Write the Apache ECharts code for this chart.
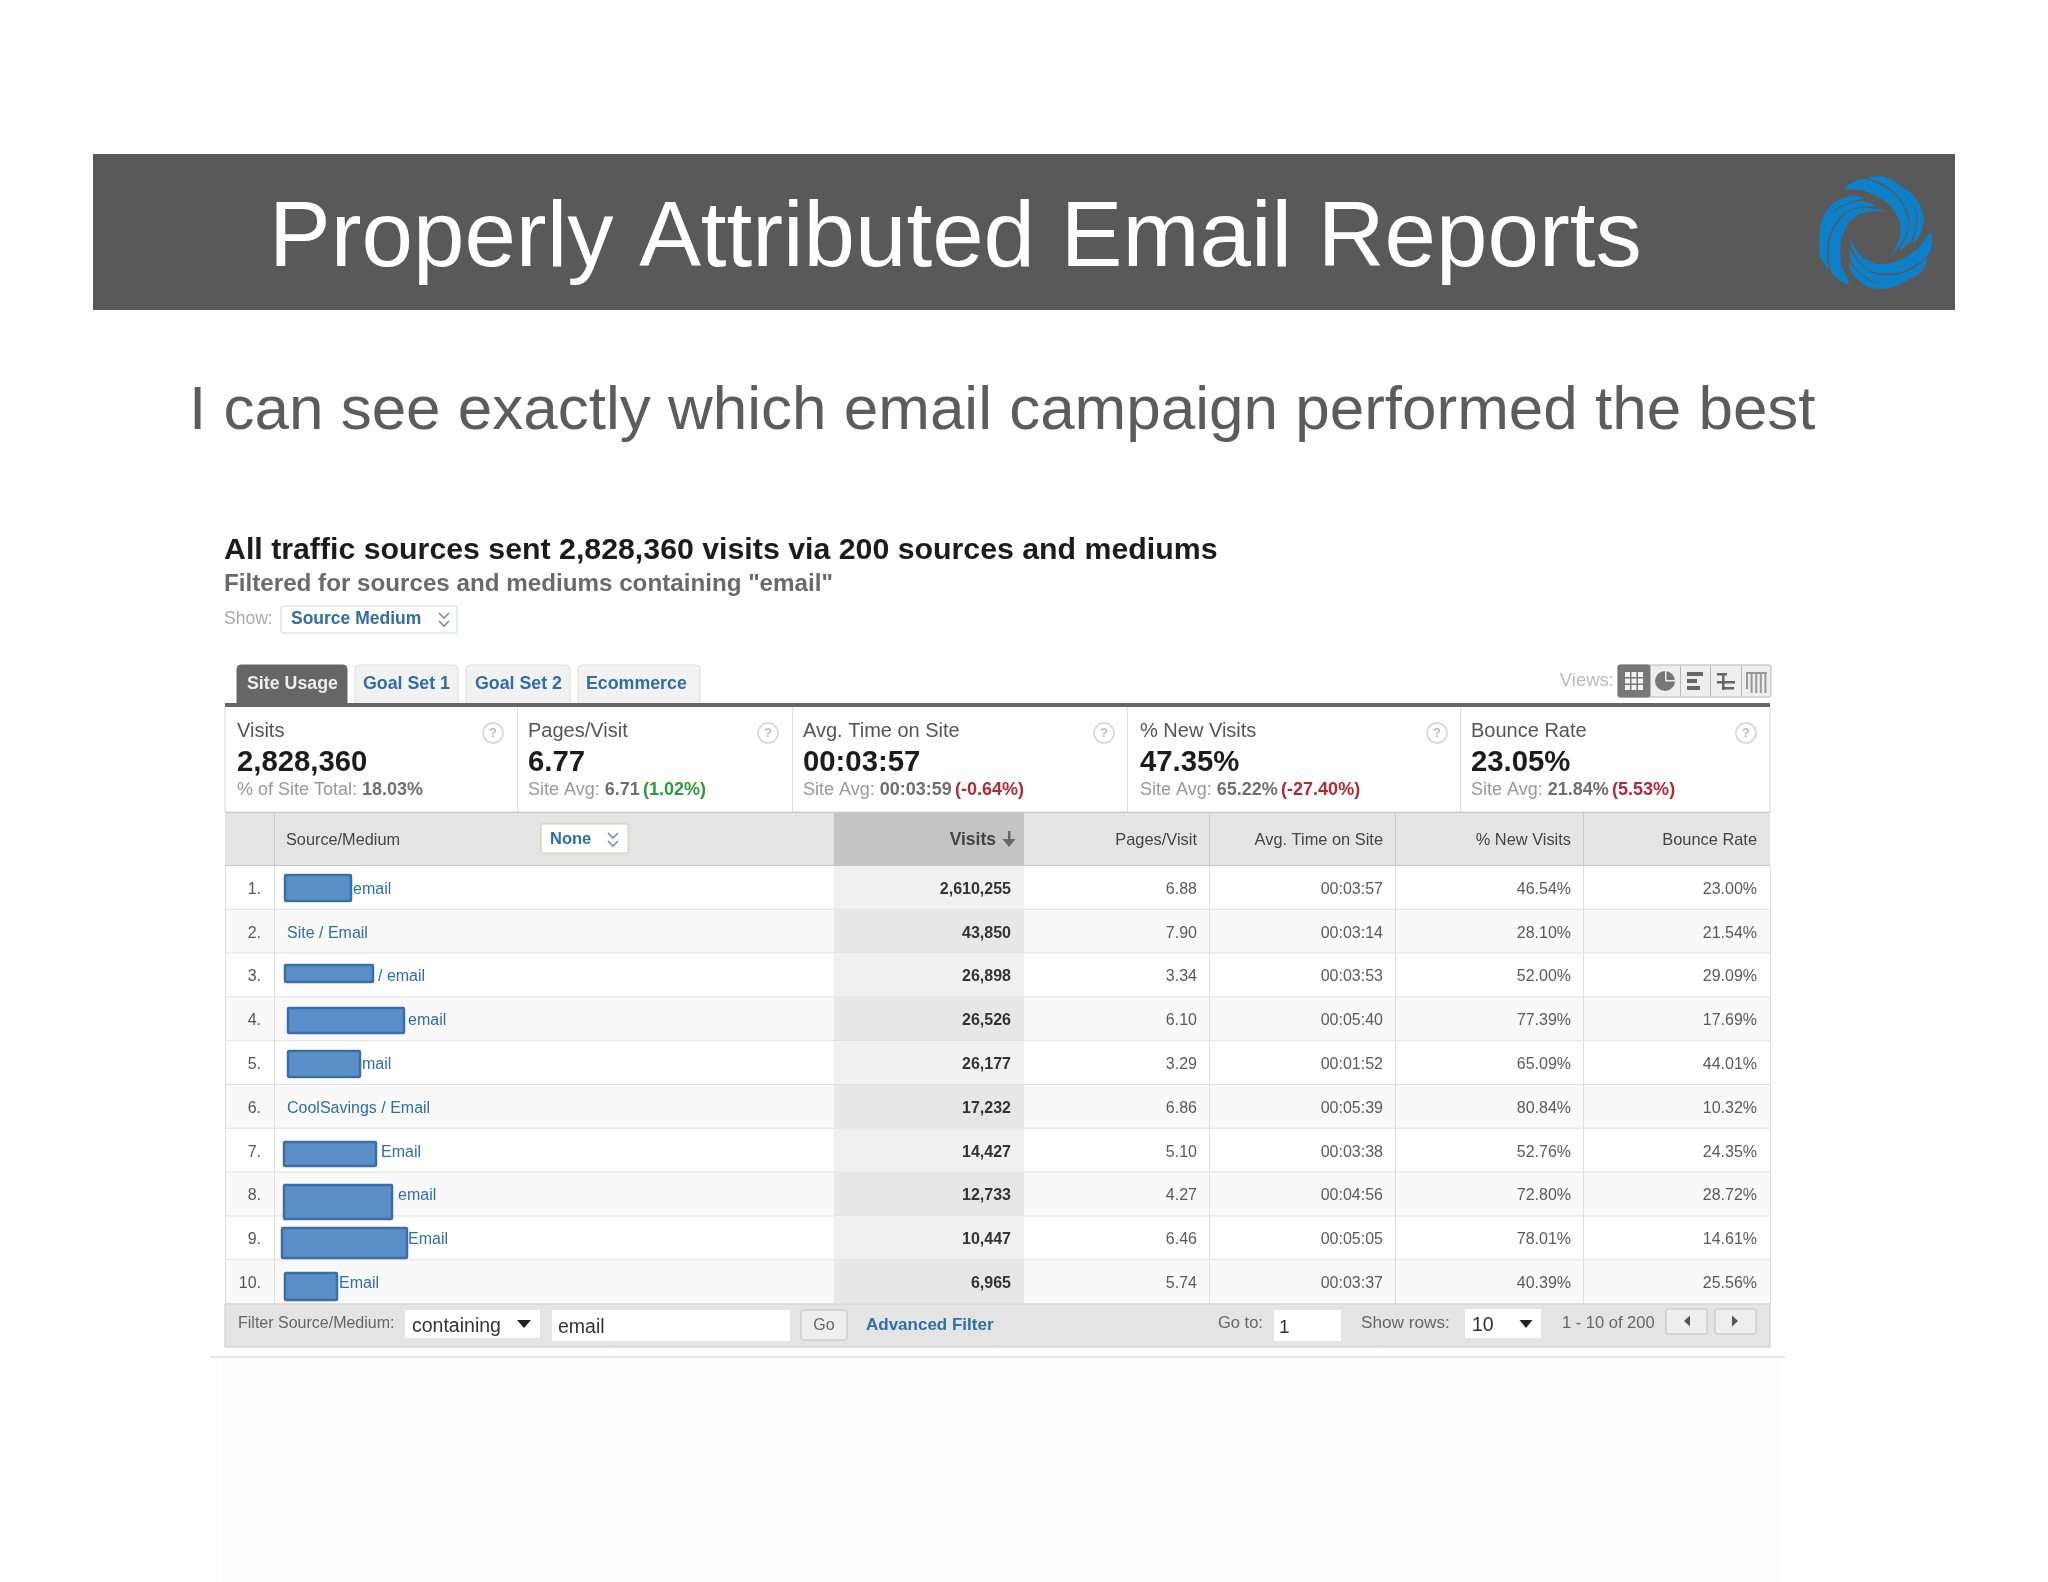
<!DOCTYPE html>
<html>
<head>
<meta charset="utf-8">
<style>html,body{margin:0;padding:0;background:#fff}#chart{width:2048px;height:1582px}</style>
<script src="https://cdn.jsdelivr.net/npm/echarts@6/dist/echarts.min.js"></script>
</head>
<body>
<div id="chart"></div>
<script>
// table data
var sourceLabels = ['email', 'Site / Email', '/ email', 'email', 'mail', 'CoolSavings / Email', 'Email', 'email', 'Email', 'Email'];
var visits = [2610255, 43850, 26898, 26526, 26177, 17232, 14427, 12733, 10447, 6965];
var pagesPerVisit = [6.88, 7.90, 3.34, 6.10, 3.29, 6.86, 5.10, 4.27, 6.46, 5.74];
var avgTimeOnSite = ['00:03:57', '00:03:14', '00:03:53', '00:05:40', '00:01:52', '00:05:39', '00:03:38', '00:04:56', '00:05:05', '00:03:37'];
var newVisitsPct = [46.54, 28.10, 52.00, 77.39, 65.09, 80.84, 52.76, 72.80, 78.01, 40.39];
var bounceRatePct = [23.00, 21.54, 29.09, 17.69, 44.01, 10.32, 24.35, 28.72, 14.61, 25.56];
var tabNames = ['Site Usage', 'Goal Set 1', 'Goal Set 2', 'Ecommerce'];
var headerNames = ['Visits', 'Pages/Visit', 'Avg. Time on Site', '% New Visits', 'Bounce Rate'];
var cardLabels = ['Visits', 'Pages/Visit', 'Avg. Time on Site', '% New Visits', 'Bounce Rate'];
var cardValues = ['2,828,360', '6.77', '00:03:57', '47.35%', '23.05%'];
var cardNotes = ['% of Site Total: ', 'Site Avg: ', 'Site Avg: ', 'Site Avg: ', 'Site Avg: '];
var cardAverages = ['18.03%', '6.71', '00:03:59', '65.22%', '21.84%'];
var cardDeltas = ['', '(1.02%)', '(-0.64%)', '(-27.40%)', '(5.53%)'];

// layout, in page pixels
var colX = [225, 274, 834, 1024, 1209, 1395, 1583, 1770];
var rowTop = 866, rowsHeight = 438;
var cardX = [237, 528, 803, 1140, 1471];
var cardDivX = [517, 792, 1127, 1460];
var helpX = [493, 768, 1104, 1437, 1746];
var tabBoxes = [[237, 110, 247], [355, 103, 363], [466, 104, 475], [578, 122, 586]];
var sourceX = [353, 287, 378, 408, 362, 287, 381, 398, 408, 339];
var redactions = [[285, 875, 66, 26], null, [285, 965, 88, 17], [288, 1008, 116, 25], [288, 1051, 72, 26], null,
  [284, 1142, 92, 24], [284, 1185, 108, 34], [282, 1228, 125, 30], [285, 1273, 52, 27]];

var FONT = '"Liberation Sans", Arial, sans-serif';
var LINK = '#2f6fa6';

function rect(x, y, w, h, fill, stroke, r, lw) {
  return { type: 'rect', shape: { x: x, y: y, width: w, height: h, r: r || 0 },
    style: { fill: fill, stroke: stroke || null, lineWidth: stroke ? (lw || 1) : 0 } };
}
function label(x, y, text, size, fill, opts) {
  opts = opts || {};
  return { type: 'text', style: { x: x, y: y + 1.5, text: text, fill: fill,
    font: (opts.bold ? 'bold ' : '') + size + 'px ' + FONT,
    textAlign: opts.align || 'left', textVerticalAlign: 'middle' } };
}
function tri(cx, cy, w, h, fill, dir) {
  var pts = dir === 'left' ? [[cx - w / 2, cy], [cx + w / 2, cy - h / 2], [cx + w / 2, cy + h / 2]]
    : dir === 'right' ? [[cx + w / 2, cy], [cx - w / 2, cy - h / 2], [cx - w / 2, cy + h / 2]]
    : [[cx - w / 2, cy - h / 2], [cx + w / 2, cy - h / 2], [cx, cy + h / 2]];
  return { type: 'polygon', shape: { points: pts }, style: { fill: fill } };
}
function chevrons(cx, cy) {
  var out = [];
  [-5, 3].forEach(function (d) {
    out.push({ type: 'polyline', shape: { points: [[cx - 5, cy + d - 2], [cx, cy + d + 3], [cx + 5, cy + d - 2]] },
      style: { stroke: '#6f93b8', lineWidth: 1.6, fill: null } });
  });
  return out;
}

// swirl logo: three arms turned around one centre, each arm is three narrow blades
function logo(cx, cy) {
  var bladeA = [[-30, -47], [-14, -56], [2, -52], [22, -38], [33, -16], [30, 2], [16, 21], [25, 2], [24, -16], [11, -33], [-10, -44]];
  var bladeB = [[-6, -57], [10, -58], [30, -44], [41, -22], [37, 4], [25, 15], [32, 0], [34, -18], [24, -38], [8, -51]];
  var bladeC = [[22, -51], [38, -40], [48, -22], [46, -2], [38, 8], [41, -6], [42, -22], [34, -38]];
  var kids = [];
  [0, 1, 2].forEach(function (k) {
    kids.push({ type: 'group', rotation: -k * Math.PI * 2 / 3, children: [bladeA, bladeB, bladeC].map(function (p) {
      return { type: 'polygon', shape: { points: p, smooth: 0.3 }, style: { fill: '#0d80ca' } };
    }) });
  });
  return { type: 'group', x: cx, y: cy, children: kids };
}

function viewIcons() {
  var out = [label(1614, 679, 'Views:', 18.5, '#bbbbbb', { align: 'right' })];
  out.push(rect(1618, 665, 153, 32, '#eeeeee', '#b5b5b5', 2));
  out.push(rect(1618, 665, 32, 32, '#777777', '#777', 2));
  [1650, 1680, 1710, 1741].forEach(function (x) { out.push(rect(x, 666, 1, 30, '#b8b8b8')); });
  // grid icon
  for (var i = 0; i < 3; i++) for (var j = 0; j < 3; j++) out.push(rect(1625 + i * 6.5, 672 + j * 6.5, 5, 5, '#f4f4f4'));
  // pie
  out.push({ type: 'circle', shape: { cx: 1665, cy: 681, r: 10 }, style: { fill: '#777' } });
  out.push(rect(1665, 671, 1.5, 10, '#eee'));
  out.push(rect(1665, 680, 10, 1.5, '#eee'));
  // bars
  out.push(rect(1687, 672, 16, 4, '#666'));
  out.push(rect(1687, 679, 10, 4, '#666'));
  out.push(rect(1687, 686, 13, 4, '#666'));
  // compare
  out.push(rect(1717, 673, 10, 2.5, '#666'));
  out.push(rect(1722, 673, 2.5, 17, '#666'));
  out.push(rect(1717, 681, 18, 2.5, '#666'));
  out.push(rect(1724, 687, 10, 2.5, '#666'));
  // pivot
  [0, 1, 2, 3, 4].forEach(function (k) {
    out.push(rect(1746 + k * 4.6, 673, 2, k === 0 ? 16 : 20, '#999'));
  });
  out.push(rect(1746, 672, 21, 2, '#999'));
  return out;
}

function chrome() {
  var g = [];
  // faint photo backdrop below the table
  g.push(rect(222, 1360, 1560, 222, '#fdfdfd'));
  g.push(rect(93, 154, 1862, 156, '#595959'));
  g.push(label(269, 239, 'Properly Attributed Email Reports', 92.5, '#ffffff'));
  g.push(logo(1875, 235));
  g.push(label(189, 410, 'I can see exactly which email campaign performed the best', 62, '#5c5c5c'));

  g.push(label(224, 549, 'All traffic sources sent 2,828,360 visits via 200 sources and mediums', 30.3, '#1c1c1c', { bold: true }));
  g.push(label(224, 583, 'Filtered for sources and mediums containing "email"', 24.2, '#6a6a6a', { bold: true }));
  g.push(label(224, 618, 'Show:', 17.5, '#aaaaaa'));
  g.push(rect(281, 606, 176, 27, '#ffffff', '#cfd8e2', 2));
  g.push(label(291, 618, 'Source Medium', 17.5, LINK, { bold: true }));
  g = g.concat(chevrons(444, 620));

  // tabs
  tabNames.forEach(function (name, i) {
    var b = tabBoxes[i];
    g.push(rect(b[0], 665, b[1], 41, i === 0 ? '#666666' : '#f2f2f2', i === 0 ? '#666' : '#dedede', 4));
    g.push(label(b[2], 683, name, 17.8, i === 0 ? '#eeeeee' : LINK, { bold: true }));
  });
  g = g.concat(viewIcons());

  // score cards
  g.push(rect(225, 705, 1545, 107, '#ffffff', '#d8d8d8'));
  g.push(rect(225, 703, 1545, 4, '#666666'));
  cardDivX.forEach(function (x) { g.push(rect(x, 707, 1, 105, '#dddddd')); });
  cardLabels.forEach(function (name, i) {
    g.push(label(cardX[i], 730, name, 20, '#555555'));
    g.push(label(cardX[i], 761, cardValues[i], 29.3, '#1c1c1c', { bold: true }));
    var delta = cardDeltas[i];
    var color = delta.charAt(1) === '-' || i === 4 ? 'red' : 'green';
    g.push({ type: 'text', style: { x: cardX[i], y: 790, textVerticalAlign: 'middle',
      text: '{n|' + cardNotes[i] + '}{a|' + cardAverages[i] + '}' + (delta ? ' {' + color + '|' + delta + '}' : ''),
      rich: {
        n: { fill: '#999999', font: '18px ' + FONT },
        a: { fill: '#6f6f6f', font: 'bold 18px ' + FONT },
        red: { fill: '#b02a3a', font: 'bold 18px ' + FONT },
        green: { fill: '#2f9a3a', font: 'bold 18px ' + FONT }
      } } });
    g.push({ type: 'circle', shape: { cx: helpX[i], cy: 733, r: 10 }, style: { fill: '#fff', stroke: '#dddddd', lineWidth: 2 } });
    g.push(label(helpX[i], 732, '?', 13, '#bbbbbb', { align: 'center', bold: true }));
  });

  // column header
  g.push(rect(225, 812, 1545, 54, '#e4e4e4'));
  g.push(rect(834, 812, 190, 54, '#c4c4c4'));
  g.push(rect(225, 812, 1545, 1, '#cccccc'));
  g.push(rect(225, 865, 1545, 2, '#c6c6c6'));
  colX.forEach(function (x, i) {
    if (i > 0 && i < colX.length - 1 && i !== 2 && i !== 3) g.push(rect(x, 812, 1, 54, '#c9c9c9'));
  });
  g.push(label(286, 839, 'Source/Medium', 16.3, '#444444'));
  g.push(rect(541, 824, 87, 29, '#ffffff', '#c9cfa8', 1));
  g.push(label(550, 838, 'None', 16.5, LINK, { bold: true }));
  g = g.concat(chevrons(613, 840));
  var headerRight = [996, 1197, 1383, 1571, 1757];
  headerNames.forEach(function (name, i) {
    g.push(label(headerRight[i], 839, name, i === 0 ? 17.5 : 16.4, '#444444', { align: 'right', bold: i === 0 }));
  });
  g.push(rect(1008, 831, 2.5, 14, '#666666'));
  g.push(tri(1009, 843, 13, 8, '#666666'));

  // filter bar
  g.push(rect(225, 1304, 1545, 43, '#e4e4e4', '#c8c8c8'));
  g.push(label(238, 1322, 'Filter Source/Medium:', 16, '#666666'));
  g.push(rect(405, 1310, 135, 28, '#ffffff'));
  g.push(label(412, 1325, 'containing', 19.5, '#333333'));
  g.push(tri(524, 1324, 14, 8, '#222222'));
  g.push(rect(552, 1310, 238, 31, '#ffffff'));
  g.push(label(558, 1326, 'email', 19.5, '#333333'));
  g.push(rect(801, 1310, 46, 30, '#eeeeee', '#c2c2c2', 3));
  g.push(label(824, 1324, 'Go', 16, '#666666', { align: 'center' }));
  g.push(label(866, 1324, 'Advanced Filter', 17, LINK, { bold: true }));
  g.push(label(1218, 1322, 'Go to:', 16.5, '#666666'));
  g.push(rect(1274, 1310, 67, 31, '#ffffff'));
  g.push(label(1279, 1326, '1', 19, '#333333'));
  g.push(label(1361, 1322, 'Show rows:', 17.2, '#666666'));
  g.push(rect(1465, 1309, 76, 29, '#ffffff'));
  g.push(label(1472, 1324, '10', 19.5, '#333333'));
  g.push(tri(1526, 1324, 13, 8, '#222222'));
  g.push(label(1562, 1322, '1 - 10 of 200', 16.5, '#666666'));
  g.push(rect(1666, 1309, 41, 25, '#eeeeee', '#c2c2c2', 2));
  g.push(tri(1687, 1321, 6, 11, '#555555', 'left'));
  g.push(rect(1715, 1309, 41, 25, '#eeeeee', '#c2c2c2', 2));
  g.push(tri(1735, 1321, 6, 11, '#555555', 'right'));
  g.push(rect(210, 1356, 1575, 2, '#e6e6e6'));
  return g;
}

function renderRow(params, api) {
  var i = params.dataIndex;
  var mid = api.coord([0, i])[1];
  var h = api.size([0, 1])[1];
  var top = mid - h / 2;
  var kids = [];
  var left = colX[0], right = colX[7];
  kids.push(rect(left, top, right - left, h, i % 2 ? '#f9f9f9' : '#ffffff'));
  kids.push(rect(colX[2], top, colX[3] - colX[2], h, i % 2 ? '#e7e7e7' : '#f0f0f0'));
  kids.push(rect(left, top + h - 1, right - left, 1.5, '#e0e0e0'));
  colX.forEach(function (x, c) {
    if (c !== 2 && c !== 3) kids.push(rect(x, top, 1, h, '#dedede'));
  });
  kids.push(label(261, mid, (i + 1) + '.', 16, '#555555', { align: 'right' }));
  kids.push(label(1011, mid, visits[i].toLocaleString('en-US'), 16, '#333333', { align: 'right', bold: true }));
  kids.push(label(1197, mid, pagesPerVisit[i].toFixed(2), 16, '#5a5a5a', { align: 'right' }));
  kids.push(label(1383, mid, avgTimeOnSite[i], 16, '#5a5a5a', { align: 'right' }));
  kids.push(label(1571, mid, newVisitsPct[i].toFixed(2) + '%', 16, '#5a5a5a', { align: 'right' }));
  kids.push(label(1757, mid, bounceRatePct[i].toFixed(2) + '%', 16, '#5a5a5a', { align: 'right' }));
  return { type: 'group', children: kids };
}

// source names and their blue cover-up boxes sit above every row background
function renderSource(params, api) {
  var i = params.dataIndex;
  var mid = api.coord([0, i])[1];
  var kids = [];
  var box = redactions[i];
  if (box) kids.push(rect(box[0], box[1], box[2], box[3], '#5a8fc8', '#3d6ea9', 1, 2.5));
  kids.push(label(sourceX[i], mid, sourceLabels[i], 16, LINK));
  return { type: 'group', children: kids };
}

var rowData = sourceLabels.map(function (s, i) { return [0, i]; });
var chart = echarts.init(document.getElementById('chart'), null, { renderer: 'canvas' });
chart.setOption({
  animation: false,
  backgroundColor: '#ffffff',
  tooltip: { show: false },
  graphic: { elements: chrome() },
  grid: { left: 0, right: 0, top: rowTop, height: rowsHeight },
  xAxis: { type: 'value', min: 0, max: 2048, show: false },
  yAxis: { type: 'category', inverse: true, show: false, data: sourceLabels.map(function (s, i) { return i; }) },
  series: [
    { type: 'custom', silent: true, clip: false, z: 2, renderItem: renderRow, data: rowData },
    { type: 'custom', silent: true, clip: false, z: 3, renderItem: renderSource, data: rowData }
  ]
});
</script>
</body>
</html>
